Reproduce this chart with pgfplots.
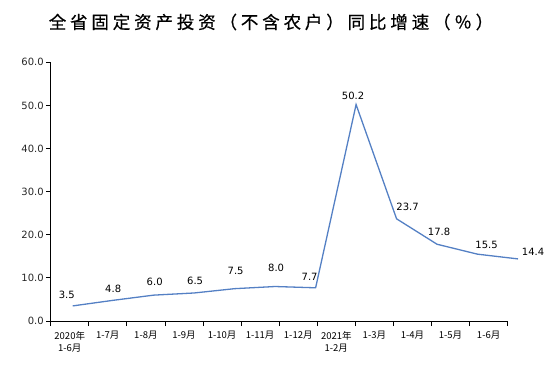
\documentclass[border=0pt]{standalone}
\usepackage{fontspec}
\setmainfont{DejaVu Sans}
\newfontfamily\cjk{Noto Sans CJK SC}
\newfontfamily\cjktitle[LetterSpace=22,FakeBold=0.6]{Noto Sans CJK SC}
\usepackage{pgfplots}
\pgfplotsset{compat=1.18}
\usepackage{pgfplotstable}
\definecolor{lineblue}{RGB}{84,128,196}
\pgfplotstableread{
x y dx dy
0.078 3.5 -6 11
1.141 4.8 0 11
2.204 6.0 1 13.5
3.267 6.5 1 12
4.330 7.5 1 18
5.393 8.0 1 18.5
6.456 7.7 -6 11
7.519 50.2 -3 9
8.582 23.7 11 12
9.645 17.8 2 12
10.708 15.5 9 9
11.771 14.4 15 7
}\datatable
\begin{document}
\begin{tikzpicture}[x=1pt,y=1pt]
\useasboundingbox (0,0) rectangle (554,389);
\node[font=\cjktitle\fontsize{17.5}{17.5}\selectfont, anchor=center] at (271,367) {全省固定资产投资（不含农户）同比增速（％）};
\begin{axis}[
  at={(50.7pt,68pt)}, anchor=south west,
  scale only axis, width=457pt, height=258.7pt,
  xmin=-0.5, xmax=11.5, ymin=0, ymax=60,
  axis x line*=bottom, axis y line*=left,
  axis line style={black, line width=0.8pt},
  clip=false,
  xtick={0,...,11},
  xticklabels={{2020年\\1-6月},1-7月,1-8月,1-9月,1-10月,1-11月,1-12月,{2021年\\1-2月},1-3月,1-4月,1-5月,1-6月},
  x tick label style={font=\cjk\fontsize{9.5}{12.5}\selectfont, align=center, anchor=north, yshift=-2pt},
  major x tick style={draw=none},
  minor xtick={-0.5,0.5,...,11.5},
  minor tick length=5pt,
  tick align=outside,
  ytick={0,10,...,60},
  major tick length=4.5pt,
  y tick label style={font=\fontsize{10}{10}\selectfont, text=black!85, xshift=1pt},
  yticklabel style={/pgf/number format/.cd, fixed, fixed zerofill, precision=1, assume math mode=true},
  tick style={black, line width=0.8pt},
]
\addplot[lineblue, line width=1.3pt, mark=none,
  visualization depends on={\thisrow{dx}\as\dx},
  visualization depends on={\thisrow{dy}\as\dy},
  nodes near coords,
  point meta=explicit symbolic,
  every node near coord/.append style={font=\fontsize{10}{10}\selectfont, text=black, anchor=center, xshift=\dx pt, yshift=\dy pt, inner sep=0pt},
] table[x=x, y=y, meta=y] {\datatable};
\end{axis}
\end{tikzpicture}
\end{document}
